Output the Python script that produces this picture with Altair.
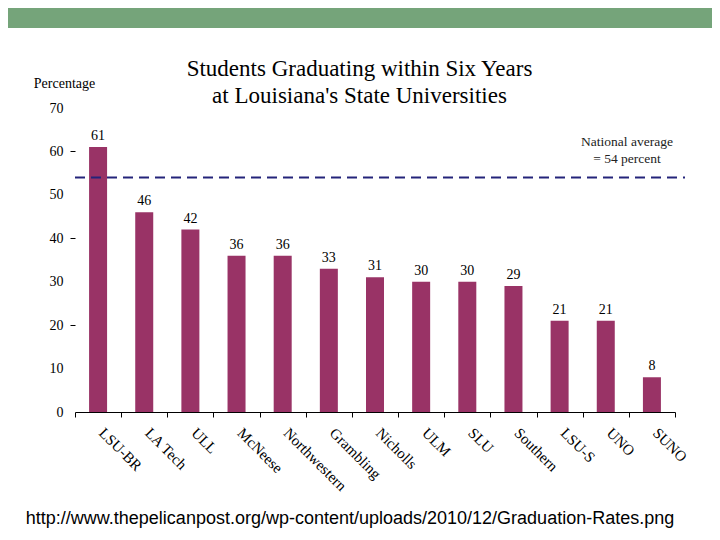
import altair as alt
import pandas as pd

schools = ["LSU-BR", "LA Tech", "ULL", "McNeese", "Northwestern", "Grambling",
           "Nicholls", "ULM", "SLU", "Southern", "LSU-S", "UNO", "SUNO"]
rates = [61, 46, 42, 36, 36, 33, 31, 30, 30, 29, 21, 21, 8]
national_avg = 54
y_ticks = [0, 10, 20, 30, 40, 50, 60, 70]
title_lines = ["Students Graduating within Six Years", "at Louisiana's State Universities"]

df = pd.DataFrame({"school": schools, "rate": rates})
avg_df = pd.DataFrame({"avg": [national_avg], "label": [["National average", "= 54 percent"]]})
url_df = pd.DataFrame({"t": ["http://www.thepelicanpost.org/wp-content/uploads/2010/12/Graduation-Rates.png"]})
title_df = pd.DataFrame({"t": [title_lines]})

SERIF = "Liberation Serif"

x = alt.X("school:N", sort=schools, title=None,
          scale=alt.Scale(paddingInner=0, paddingOuter=0),
          axis=alt.Axis(labelAngle=45, labelAlign="left", labelBaseline="top",
                        labelFont=SERIF, labelFontSize=15, labelColor="black",
                        labelPadding=8, labelOffset=8, tickBand="extent", tickSize=5,
                        grid=False, tickColor="black", domainColor="black",
                        labelOverlap=False))
y = alt.Y("rate:Q", scale=alt.Scale(domain=[0, 70], nice=False),
          axis=alt.Axis(values=y_ticks, domain=False, grid=False, tickSize=5,
                        tickColor="black", labelPadding=7,
                        tickOpacity={"condition": {"test": "datum.value == 20 || datum.value == 40 || datum.value == 60", "value": 1}, "value": 0},
                        labelFont=SERIF, labelFontSize=14, labelColor="black",
                        title="Percentage", titleAngle=0, titleFont=SERIF,
                        titleFontSize=14, titleFontWeight="normal", titleColor="black",
                        titleAlign="center", titleBaseline="middle",
                        titleX=-11, titleY=-25))

base = alt.Chart(df)
bars = base.mark_bar(size=18, color="#993366").encode(x=x, y=y)
vals = base.mark_text(font=SERIF, fontSize=14, color="black", dy=-7,
                      baseline="alphabetic").encode(x=alt.X("school:N", sort=schools),
                                                    y="rate:Q", text="rate:Q")

avg_line = alt.Chart(avg_df).mark_rule(color="#24247a", strokeWidth=2,
                                       strokeDash=[10, 6]).encode(
    x=alt.value(0), x2=alt.value(610), y=alt.Y("avg:Q"))
avg_text = alt.Chart(avg_df).mark_text(font=SERIF, fontSize=13.5, color="#222222",
                                       baseline="alphabetic", dy=-31, lineHeight=17).encode(
    x=alt.value(552), y=alt.Y("avg:Q"), text="label")

title = alt.Chart(title_df).mark_text(font=SERIF, fontSize=23, color="black",
                                      baseline="middle", lineHeight=27).encode(
    x=alt.value(284.5), y=alt.value(-39), text="t")

band = alt.Chart(avg_df).mark_rect(color="#75a47a").encode(
    x=alt.value(-67), x2=alt.value(637), y=alt.value(-100), y2=alt.value(-80))
url = alt.Chart(url_df).mark_text(font="Liberation Sans", fontSize=18,
                                  color="black", baseline="middle").encode(
    x=alt.value(275), y=alt.value(411), text="t")

chart = alt.layer(band, title, bars, vals, avg_line, avg_text, url).properties(
    width=600, height=304,
    background="white",
    padding={"left": 67, "top": 100, "right": 37, "bottom": 120},
    autosize=alt.AutoSizeParams(type="none"),
).configure_view(strokeWidth=0, strokeOpacity=0).configure_axis(grid=False)

chart.save("out.html", embed_options={"renderer": "svg", "actions": False})
